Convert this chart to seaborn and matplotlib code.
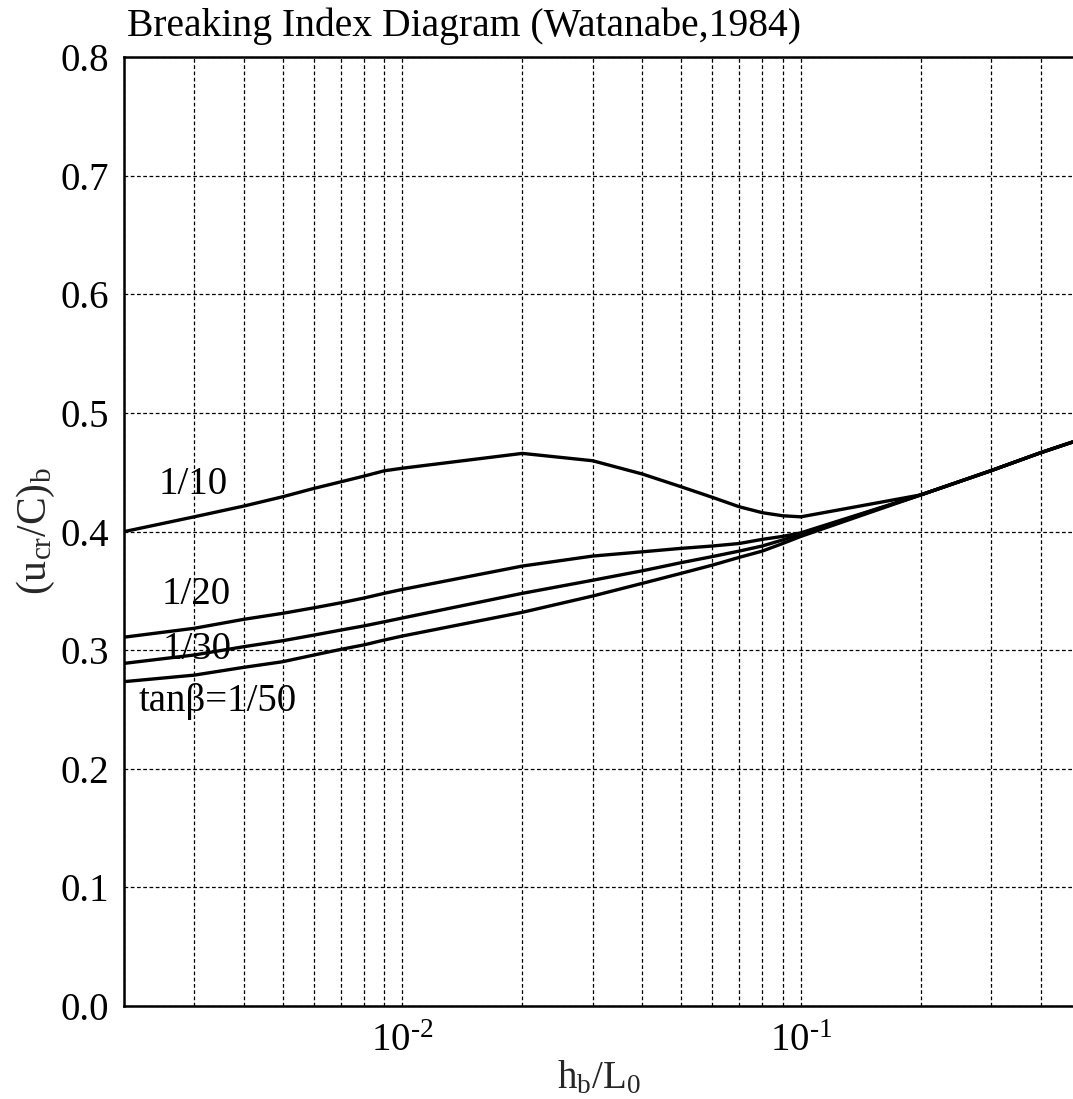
import numpy as np
import pandas as pd
import matplotlib
matplotlib.use("Agg")
import matplotlib.pyplot as plt
import matplotlib.ticker as mticker
import seaborn as sns

# ---- data ----
x_vals = [0.002, 0.003, 0.004, 0.005, 0.006, 0.007, 0.008, 0.009, 0.01,
          0.02, 0.03, 0.04, 0.05, 0.06, 0.07, 0.08, 0.09, 0.1,
          0.2, 0.3, 0.4, 0.48]
y_1_10 = [0.400, 0.4125, 0.4216, 0.4294, 0.4365, 0.4420, 0.4468, 0.4513, 0.4535,
          0.4660, 0.4598, 0.4486, 0.4379, 0.4289, 0.4210, 0.4160, 0.4134, 0.4125,
          0.4310, 0.4514, 0.4666, 0.4755]
y_1_20 = [0.3110, 0.3185, 0.3261, 0.3311, 0.3358, 0.3400, 0.3440, 0.3480, 0.3513,
          0.3710, 0.3794, 0.3830, 0.3859, 0.3879, 0.3900, 0.3935, 0.3960, 0.3990,
          0.4310, 0.4514, 0.4666, 0.4755]
y_1_30 = [0.2889, 0.2960, 0.3030, 0.3080, 0.3128, 0.3170, 0.3205, 0.3240, 0.3272,
          0.3480, 0.3590, 0.3670, 0.3738, 0.3790, 0.3836, 0.3879, 0.3930, 0.3980,
          0.4310, 0.4514, 0.4666, 0.4755]
y_1_50 = [0.2735, 0.2790, 0.2856, 0.2903, 0.2960, 0.3007, 0.3045, 0.3086, 0.3120,
          0.3320, 0.3457, 0.3564, 0.3648, 0.3718, 0.3783, 0.3836, 0.3900, 0.3960,
          0.4310, 0.4514, 0.4666, 0.4755]
series_names = ["1/10", "1/20", "1/30", "1/50"]
curve_labels = ["1/10", "1/20", "1/30", "tan\u03b2=1/50"]
label_x = [0.00245, 0.00248, 0.0025, 0.00218]
label_y = [0.440, 0.347, 0.3005, 0.2565]
y_ticks = [0.0, 0.1, 0.2, 0.3, 0.4, 0.5, 0.6, 0.7, 0.8]

df = pd.DataFrame({
    "x": x_vals * 4,
    "y": y_1_10 + y_1_20 + y_1_30 + y_1_50,
    "slope": sum([[n] * len(x_vals) for n in series_names], []),
})

sns.set_style("white")
plt.rcParams["font.family"] = ["Liberation Serif", "DejaVu Serif"]
plt.rcParams["mathtext.fontset"] = "custom"
plt.rcParams["mathtext.rm"] = "Liberation Serif"
plt.rcParams["mathtext.it"] = "Liberation Serif:italic"
plt.rcParams["axes.unicode_minus"] = False

FS = 28

fig = plt.figure(figsize=(10.73, 10.99), dpi=100)
ax = fig.add_axes([124 / 1073, (1099 - 1006) / 1099, (1073 - 124) / 1073, (1006 - 57.3) / 1099])

sns.lineplot(data=df, x="x", y="y", hue="slope",
             palette=["black"] * 4, linewidth=2.4, legend=False, ax=ax, sort=False,
             estimator=None)

ax.set_xscale("log")
ax.set_xlim(0.002, 0.482)
ax.set_ylim(0.0, 0.8)
ax.set_yticks(y_ticks)
ax.yaxis.set_major_formatter(mticker.FormatStrFormatter("%.1f"))
ax.xaxis.set_major_locator(mticker.LogLocator(base=10))
ax.xaxis.set_minor_locator(mticker.LogLocator(base=10, subs=np.arange(2, 10)))


def pow_fmt(v, pos):
    n = int(round(np.log10(v)))
    return r"$\mathrm{10^{\text{-}%d}}$" % abs(n) if n < 0 else r"$\mathrm{10^{%d}}$" % n


ax.xaxis.set_major_formatter(mticker.FuncFormatter(pow_fmt))
ax.xaxis.set_minor_formatter(mticker.NullFormatter())

grid_kw = dict(color="black", linestyle=(0, (3, 2)), linewidth=0.9)
ax.grid(True, which="both", axis="x", **grid_kw)
ax.grid(True, which="major", axis="y", **grid_kw)

for side in ["left", "bottom", "top"]:
    ax.spines[side].set_color("black")
    ax.spines[side].set_linewidth(1.8)
ax.spines["right"].set_visible(False)

ax.tick_params(axis="both", which="both", length=0, labelsize=FS, colors="black")
ax.tick_params(axis="y", pad=11)
ax.tick_params(axis="x", pad=12)

ax.set_xlabel(r"$\mathrm{h_b/L_0}$", fontsize=FS, labelpad=0)
ax.set_ylabel(r"$\mathrm{(u_{cr}/C)_b}$", fontsize=30, labelpad=2)

for txt, lx, ly in zip(curve_labels, label_x, label_y):
    ax.text(lx, ly, txt, fontsize=FS, ha="left", va="center", color="black")

fig.text(127 / 1073, 1 - 36 / 1099, "Breaking Index Diagram (Watanabe,1984)",
         fontsize=28.5, ha="left", va="baseline", color="black")

fig.savefig("out.png", dpi=100, facecolor="white")
